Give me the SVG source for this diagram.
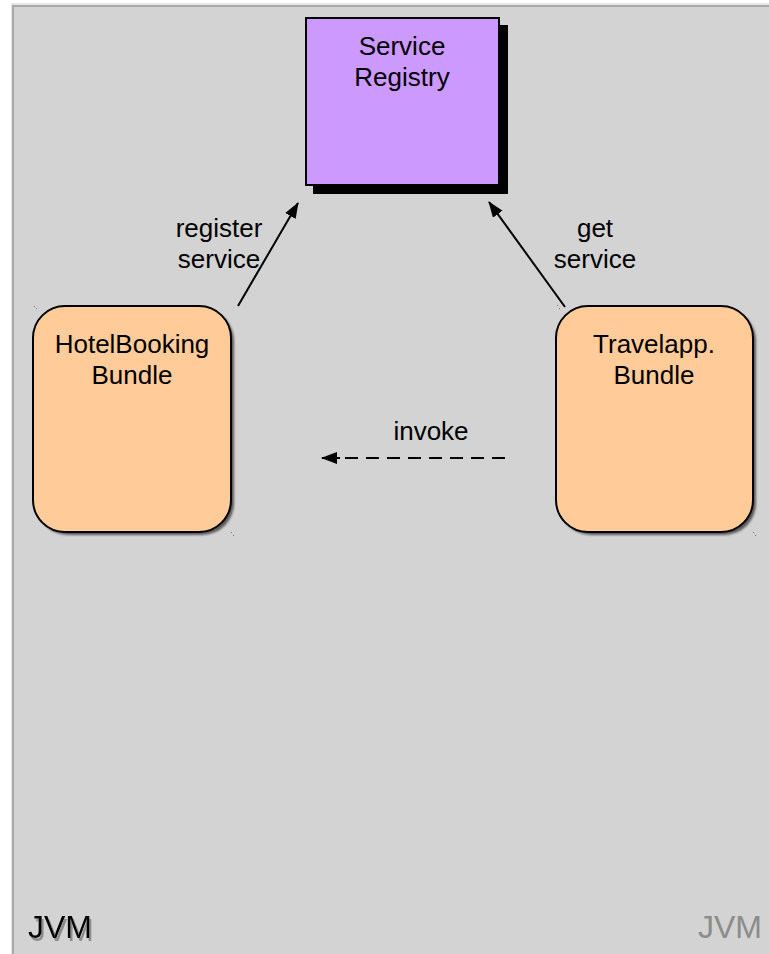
<svg xmlns="http://www.w3.org/2000/svg" width="769" height="954" viewBox="0 0 769 954">
  <style>
    .lbl { font-family: "Liberation Sans", Arial, sans-serif; font-size: 26px; fill: #000; text-anchor: middle; }
    .jvm { font-family: "Liberation Sans", Arial, sans-serif; font-size: 32px; }
    .edge { stroke: #000; stroke-width: 2; fill: none; }
    .bundle { fill: #ffcc99; stroke: #000; stroke-width: 2; }
    .bshadow { fill: #5a5a5a; filter: url(#soft); }
    .tick { fill: #777; }
  </style>
  <defs>
    <marker id="head" viewBox="0 0 16 12" refX="15" refY="6" markerWidth="16" markerHeight="12" markerUnits="userSpaceOnUse" orient="auto">
      <path d="M0,0 L16,6 L0,12 Z" fill="#000"/>
    </marker>
    <filter id="soft" x="-10%" y="-10%" width="120%" height="120%">
      <feGaussianBlur stdDeviation="1"/>
    </filter>
    <!-- grey drop shadow under the JVM caption -->
    <filter id="textShadow" x="-10%" y="-20%" width="130%" height="150%">
      <feOffset in="SourceAlpha" dx="2" dy="3" result="off"/>
      <feFlood flood-color="#8c8c8c"/>
      <feComposite in2="off" operator="in" result="shadow"/>
      <feMerge>
        <feMergeNode in="shadow"/>
        <feMergeNode in="SourceGraphic"/>
      </feMerge>
    </filter>
  </defs>

  <!-- page and JVM frame -->
  <rect x="0" y="0" width="769" height="954" fill="#ffffff"/>
  <rect x="11" y="3" width="770" height="960" fill="#e6e6e6"/>
  <rect x="13" y="6" width="770" height="960" fill="#d3d3d3" stroke="#a9a9a9" stroke-width="2"/>

  <!-- Service Registry -->
  <g id="service-registry">
    <rect x="313" y="25" width="195" height="169" fill="#000"/>
    <rect x="306" y="18" width="193" height="167" fill="#cc99ff" stroke="#000" stroke-width="2"/>
    <text class="lbl" x="402" y="55">Service</text>
    <text class="lbl" x="402" y="86">Registry</text>
  </g>

  <!-- HotelBooking Bundle -->
  <g id="hotelbooking-bundle">
    <rect class="bshadow" x="36" y="309" width="198" height="226" rx="32" ry="32"/>
    <rect class="bundle" x="33" y="306" width="198" height="226" rx="32" ry="32"/>
    <text class="lbl" x="132" y="353">HotelBooking</text>
    <text class="lbl" x="132" y="384">Bundle</text>
    <rect class="tick" x="34" y="306" width="1" height="1"/>
    <rect class="tick" x="36" y="308" width="1" height="1"/>
    <rect class="tick" x="231" y="532" width="1" height="1"/>
    <rect class="tick" x="233" y="535" width="1" height="1"/>
  </g>

  <!-- Travelapp. Bundle -->
  <g id="travelapp-bundle">
    <rect class="bshadow" x="559" y="309" width="197" height="226" rx="32" ry="32"/>
    <rect class="bundle" x="556" y="306" width="197" height="226" rx="32" ry="32"/>
    <text class="lbl" x="654" y="353">Travelapp.</text>
    <text class="lbl" x="654" y="384">Bundle</text>
    <rect class="tick" x="557" y="305" width="1" height="1"/>
    <rect class="tick" x="559" y="308" width="1" height="1"/>
    <rect class="tick" x="753" y="532" width="1" height="1"/>
    <rect class="tick" x="755" y="535" width="1" height="1"/>
  </g>

  <!-- connectors -->
  <g id="connectors">
    <line class="edge" x1="238" y1="306" x2="298" y2="203" marker-end="url(#head)"/>
    <text class="lbl" x="219" y="237">register</text>
    <text class="lbl" x="219" y="268">service</text>

    <line class="edge" x1="565" y1="307" x2="489" y2="202" marker-end="url(#head)"/>
    <text class="lbl" x="595" y="237">get</text>
    <text class="lbl" x="595" y="268">service</text>

    <line class="edge" x1="505" y1="458" x2="336" y2="458" stroke-dasharray="13 8"/>
    <line class="edge" x1="340" y1="458" x2="322" y2="458" marker-end="url(#head)"/>
    <text class="lbl" x="431" y="440">invoke</text>
  </g>

  <!-- JVM labels -->
  <g id="jvm-labels">
    <text class="jvm" x="28" y="938" fill="#000" filter="url(#textShadow)">JVM</text>
    <text class="jvm" x="762" y="938" fill="#8c8c8c" text-anchor="end">JVM</text>
  </g>
</svg>
